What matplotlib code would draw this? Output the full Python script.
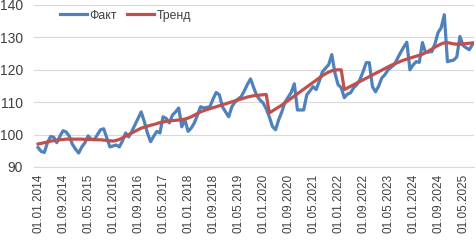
import matplotlib
matplotlib.use("Agg")
import matplotlib.pyplot as plt
import pandas as pd

dates = pd.date_range("2014-01-01", periods=140, freq="MS")

fact = [96.0, 94.8, 94.5, 97.5, 99.4, 99.2, 97.5, 99.5, 101.2, 100.8,
        99.5, 97.0, 95.5, 94.3, 96.2, 97.5, 99.6, 98.6, 98.4, 100.0,
        101.5, 101.8, 99.0, 96.2, 96.5, 96.8, 96.2, 98.0, 100.5, 99.3,
        101.0, 103.0, 105.0, 107.0, 104.0, 100.5, 97.8, 99.5, 101.0, 100.5,
        105.5, 105.0, 103.6, 106.0, 107.0, 108.2, 102.4, 104.6, 101.0, 102.0,
        103.6, 106.0, 108.6, 108.2, 108.4, 108.6, 111.0, 113.0, 112.3, 108.6,
        107.0, 105.5, 108.6, 110.0, 111.0, 111.7, 113.5, 115.5, 117.2, 114.5,
        112.0, 110.7, 109.8, 108.0, 105.5, 102.5, 101.5, 104.6, 107.0, 110.0,
        111.5, 113.0, 115.7, 107.6, 107.6, 107.6, 112.3, 113.5, 114.8, 113.9,
        116.5, 119.4, 120.5, 121.6, 124.7, 119.0, 115.4, 114.5, 111.4, 112.5,
        112.9, 114.5, 115.4, 117.0, 119.4, 122.2, 122.2, 114.8, 113.2, 115.0,
        117.5, 118.5, 120.0, 120.8, 121.6, 123.5, 125.3, 127.0, 128.5, 120.0,
        121.5, 122.5, 122.3, 128.4, 125.3, 125.5, 125.6, 128.0, 131.5, 133.0,
        137.0, 122.5, 122.8, 123.0, 124.0, 130.3, 127.5, 126.8, 126.2, 127.8]

trend = [97.1, 97.3, 97.5, 97.7, 98.0, 98.1, 98.3, 98.4, 98.5, 98.6,
         98.6, 98.6, 98.6, 98.6, 98.6, 98.5, 98.5, 98.5, 98.5, 98.4,
         98.4, 98.3, 98.2, 98.1, 98.0, 98.2, 98.5, 99.0, 99.5, 100.0,
         100.5, 101.0, 101.5, 102.0, 102.3, 102.6, 102.9, 103.1, 103.4, 103.7,
         103.9, 104.1, 104.2, 104.3, 104.4, 104.5, 104.6, 104.8, 105.1, 105.5,
         106.0, 106.5, 107.0, 107.4, 107.7, 108.0, 108.3, 108.6, 108.9, 109.2,
         109.5, 109.8, 110.1, 110.4, 110.7, 111.0, 111.3, 111.6, 111.8, 112.0,
         112.1, 112.2, 112.3, 112.4, 106.7, 107.3, 107.9, 108.5, 109.1, 109.8,
         110.5, 111.2, 111.9, 112.6, 113.3, 114.0, 114.7, 115.4, 116.1, 116.8,
         117.5, 118.2, 118.8, 119.3, 119.7, 119.9, 120.0, 120.0, 113.9, 114.4,
         114.9, 115.4, 115.9, 116.4, 116.9, 117.4, 117.9, 118.4, 118.9, 119.4,
         119.9, 120.4, 120.9, 121.4, 121.8, 122.2, 122.6, 123.0, 123.3, 123.6,
         123.9, 124.2, 124.5, 124.8, 125.3, 125.8, 126.4, 127.0, 127.5, 128.0,
         128.3, 128.4, 128.2, 128.0, 127.9, 127.9, 128.0, 128.1, 128.2, 128.3]

yticks = [90, 100, 110, 120, 130, 140]
tick_step = 8

font = "Liberation Sans"
plt.rcParams['font.family'] = [font, 'DejaVu Sans']

fig = plt.figure(figsize=(4.76, 2.42), dpi=100)
ax = fig.add_axes([34/476, 1-167/242, (474-34)/476, (167-5)/242])

idx = list(range(len(dates)))
ax.plot(idx, fact, color="#4F81BD", lw=2.3, label="Факт", solid_joinstyle="round")
ax.plot(idx, trend, color="#C0504D", lw=2.3, label="Тренд", solid_joinstyle="round")

ax.set_ylim(90, 140)
ax.set_yticks(yticks)
ax.set_xlim(-1.3, 139.5)
ticks = idx[::tick_step]
ax.set_xticks(ticks)
ax.set_xticklabels([dates[i].strftime("%d.%m.%Y") for i in ticks], rotation=90,
                   fontsize=8.5, color="#404040")
ax.tick_params(axis="y", labelsize=10, colors="#404040", length=0, pad=8)
ax.tick_params(axis="x", length=0, pad=5)
ax.grid(axis="y", color="#D9D9D9", lw=0.8)
ax.set_axisbelow(True)
for s in ["top", "right", "left"]:
    ax.spines[s].set_visible(False)
ax.spines["bottom"].set_color("#D9D9D9")

ax.legend(loc="upper left", bbox_to_anchor=(0.035, 1.04), ncol=2, frameon=False,
          fontsize=8.8, handlelength=2.2, handletextpad=0.2, columnspacing=0.8,
          labelcolor="#404040")

fig.savefig("out.png", dpi=100)
